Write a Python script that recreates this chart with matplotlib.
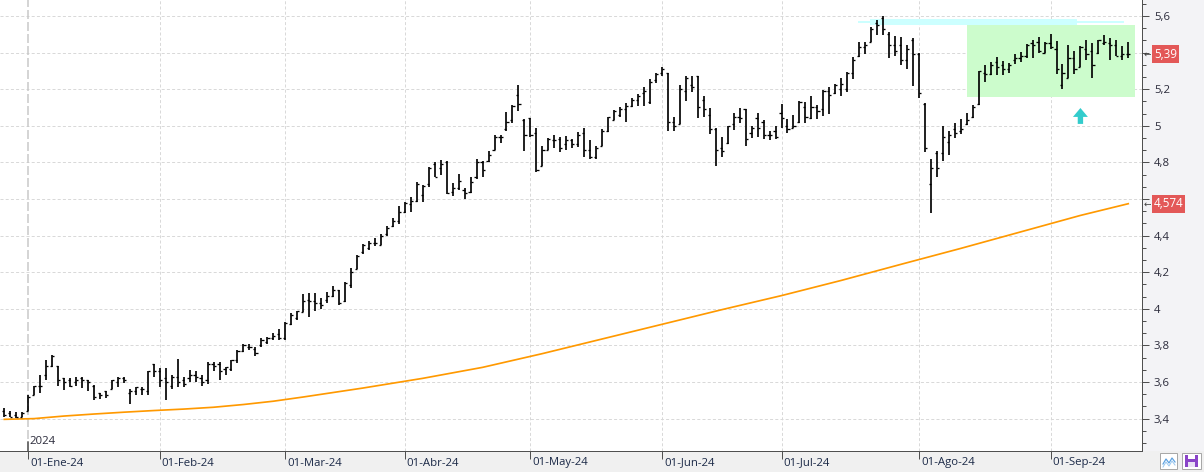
import numpy as np
import pandas as pd
import matplotlib
matplotlib.use("Agg")
import matplotlib.pyplot as plt
from matplotlib.patches import Rectangle, Polygon
import matplotlib.transforms as mtransforms
from matplotlib.ticker import FixedLocator, FuncFormatter

# ---------------- data ----------------
HOLIDAYS = ["2023-12-25", "2023-12-26", "2024-01-01", "2024-03-29", "2024-04-01", "2024-05-01"]
START_DATE = "2023-12-22"
END_DATE = "2024-09-19"

opens = [
    3.44, 3.43, 3.42, 3.41,
    3.44, 3.53, 3.58, 3.64, 3.69, 3.69, 3.62, 3.61, 3.60, 3.62, 3.61, 3.58, 3.54, 3.55, 3.56, 3.60, 3.62, 3.54, 3.55, 3.56, 3.55, 3.70,
    3.66, 3.62, 3.58, 3.63, 3.61, 3.62, 3.64, 3.62, 3.61, 3.70, 3.70, 3.67, 3.67, 3.72, 3.77, 3.79, 3.78, 3.80, 3.82, 3.84, 3.86,
    3.84, 3.915, 3.95, 3.98, 4.05, 4.04, 4.03, 4.05, 4.07, 4.10, 4.04, 4.13, 4.22, 4.31, 4.33, 4.36, 4.35, 4.41, 4.45, 4.48,
    4.53, 4.57, 4.59, 4.62, 4.68, 4.79, 4.77, 4.80, 4.64, 4.66, 4.65, 4.64, 4.72, 4.80, 4.81, 4.87, 4.94, 4.98, 5.03, 5.17, 5.03,
    5.04, 4.96, 4.78, 4.87, 4.92, 4.93, 4.90, 4.92, 4.90, 4.96, 4.87, 4.83, 4.89, 4.97, 5.03, 5.06, 5.09, 5.11, 5.14, 5.18, 5.13, 5.25,
    5.29, 5.29, 5.02, 5.01, 5.19, 5.22, 5.27, 5.14, 5.06, 4.98, 4.88, 4.905, 5.01, 5.05, 5.09, 4.96, 5.04, 5.02, 4.95, 4.97,
    5.07, 5.00, 4.99, 5.02, 5.10, 5.04, 5.10, 5.09, 5.19, 5.18, 5.20, 5.20, 5.29, 5.38, 5.43, 5.46, 5.56, 5.59, 5.50, 5.44, 5.44, 5.36, 5.47,
    5.39, 5.12, 4.68, 4.85, 4.85, 4.91, 4.98, 4.97, 5.01, 5.05, 5.12, 5.29, 5.28, 5.35, 5.33, 5.31, 5.36, 5.37, 5.38, 5.45, 5.46, 5.40,
    5.45, 5.42, 5.22, 5.26, 5.37, 5.32, 5.42, 5.41, 5.40, 5.45, 5.45, 5.44, 5.38, 5.39,
]
highs = [
    3.46, 3.44, 3.435, 3.435,
    3.53, 3.58, 3.64, 3.72, 3.75, 3.69, 3.62, 3.62, 3.63, 3.63, 3.61, 3.585, 3.54, 3.55, 3.61, 3.625, 3.625, 3.56, 3.57, 3.57, 3.66, 3.70,
    3.675, 3.675, 3.64, 3.725, 3.63, 3.665, 3.66, 3.64, 3.71, 3.71, 3.71, 3.68, 3.72, 3.775, 3.81, 3.81, 3.79, 3.84, 3.845, 3.865, 3.89,
    3.93, 3.975, 3.99, 4.08, 4.085, 4.085, 4.06, 4.09, 4.125, 4.10, 4.145, 4.225, 4.295, 4.355, 4.37, 4.385, 4.41, 4.45, 4.495, 4.56,
    4.585, 4.61, 4.695, 4.675, 4.775, 4.80, 4.815, 4.805, 4.685, 4.735, 4.66, 4.72, 4.82, 4.81, 4.86, 4.95, 4.95, 5.075, 5.115, 5.225, 5.035,
    5.045, 4.985, 4.89, 4.935, 4.95, 4.94, 4.945, 4.93, 4.965, 4.985, 4.92, 4.89, 4.98, 5.05, 5.085, 5.10, 5.125, 5.15, 5.175, 5.21, 5.255, 5.29,
    5.32, 5.29, 5.05, 5.22, 5.27, 5.27, 5.27, 5.165, 5.095, 4.985, 4.94, 5.0, 5.07, 5.095, 5.09, 5.0, 5.07, 5.03, 4.97, 5.0,
    5.12, 5.035, 5.06, 5.135, 5.13, 5.165, 5.115, 5.195, 5.21, 5.23, 5.26, 5.295, 5.375, 5.46, 5.455, 5.54, 5.58, 5.60, 5.51, 5.49, 5.485, 5.44, 5.48,
    5.40, 5.125, 4.82, 4.86, 5.0, 4.97, 5.015, 5.035, 5.07, 5.115, 5.30, 5.33, 5.35, 5.375, 5.355, 5.345, 5.39, 5.405, 5.445, 5.47, 5.485, 5.455,
    5.50, 5.465, 5.34, 5.44, 5.41, 5.435, 5.47, 5.45, 5.47, 5.495, 5.48, 5.47, 5.435, 5.455,
]
lows = [
    3.41, 3.41, 3.405, 3.41,
    3.44, 3.53, 3.54, 3.61, 3.68, 3.58, 3.555, 3.57, 3.58, 3.565, 3.55, 3.50, 3.505, 3.515, 3.56, 3.57, 3.595, 3.48, 3.53, 3.53, 3.53, 3.63,
    3.57, 3.50, 3.56, 3.575, 3.57, 3.60, 3.60, 3.58, 3.59, 3.66, 3.61, 3.64, 3.66, 3.705, 3.765, 3.775, 3.74, 3.79, 3.81, 3.83, 3.83,
    3.83, 3.91, 3.94, 3.98, 3.955, 3.99, 4.0, 4.03, 4.065, 4.02, 4.035, 4.115, 4.22, 4.30, 4.32, 4.345, 4.35, 4.40, 4.445, 4.465,
    4.525, 4.53, 4.585, 4.585, 4.665, 4.72, 4.73, 4.625, 4.615, 4.65, 4.60, 4.63, 4.71, 4.72, 4.80, 4.865, 4.905, 4.97, 5.015, 5.08, 4.86,
    4.94, 4.745, 4.78, 4.865, 4.88, 4.855, 4.87, 4.88, 4.885, 4.83, 4.82, 4.82, 4.89, 4.965, 5.03, 5.05, 5.02, 5.10, 5.11, 5.11, 5.12, 5.235,
    5.27, 4.97, 4.97, 5.01, 5.135, 5.185, 5.045, 5.05, 4.955, 4.78, 4.83, 4.90, 4.975, 5.015, 4.89, 4.935, 4.94, 4.925, 4.92, 4.925,
    4.99, 4.96, 4.985, 5.015, 5.015, 5.035, 5.035, 5.055, 5.065, 5.175, 5.16, 5.185, 5.255, 5.375, 5.39, 5.455, 5.495, 5.495, 5.37, 5.38, 5.33, 5.31, 5.215,
    5.15, 4.855, 4.525, 4.72, 4.81, 4.84, 4.935, 4.955, 5.005, 5.04, 5.115, 5.24, 5.275, 5.275, 5.275, 5.29, 5.34, 5.35, 5.37, 5.37, 5.40, 5.40,
    5.42, 5.285, 5.20, 5.26, 5.28, 5.32, 5.36, 5.26, 5.39, 5.44, 5.36, 5.38, 5.36, 5.37,
]
closes = [
    3.42, 3.41, 3.41, 3.43,
    3.52, 3.58, 3.58, 3.69, 3.74, 3.61, 3.60, 3.58, 3.61, 3.61, 3.60, 3.52, 3.53, 3.53, 3.61, 3.62, 3.61, 3.55, 3.57, 3.56, 3.66, 3.66,
    3.61, 3.60, 3.63, 3.60, 3.59, 3.64, 3.63, 3.60, 3.70, 3.69, 3.66, 3.68, 3.72, 3.77, 3.80, 3.79, 3.76, 3.83, 3.84, 3.85, 3.84,
    3.92, 3.965, 3.99, 4.04, 4.04, 4.03, 4.02, 4.07, 4.10, 4.03, 4.14, 4.20, 4.29, 4.35, 4.36, 4.36, 4.40, 4.44, 4.48, 4.53,
    4.58, 4.59, 4.68, 4.67, 4.77, 4.72, 4.79, 4.63, 4.66, 4.70, 4.63, 4.69, 4.80, 4.76, 4.84, 4.94, 4.94, 5.02, 5.11, 5.12, 4.95,
    4.95, 4.76, 4.87, 4.93, 4.92, 4.88, 4.92, 4.90, 4.95, 4.87, 4.83, 4.88, 4.97, 5.05, 5.08, 5.09, 5.11, 5.14, 5.16, 5.19, 5.24, 5.28,
    5.31, 5.02, 5.00, 5.20, 5.26, 5.21, 5.10, 5.09, 4.98, 4.87, 4.86, 5.0, 5.05, 5.04, 4.93, 4.99, 4.99, 4.95, 4.95, 4.94,
    5.04, 4.98, 5.00, 5.13, 5.05, 5.10, 5.08, 5.19, 5.17, 5.22, 5.23, 5.29, 5.36, 5.43, 5.44, 5.53, 5.55, 5.53, 5.44, 5.41, 5.36, 5.42, 5.39,
    5.18, 4.88, 4.77, 4.77, 4.94, 4.95, 4.96, 4.98, 5.03, 5.10, 5.30, 5.28, 5.33, 5.32, 5.31, 5.33, 5.37, 5.38, 5.44, 5.44, 5.41, 5.45,
    5.43, 5.31, 5.29, 5.37, 5.31, 5.43, 5.39, 5.33, 5.47, 5.46, 5.44, 5.38, 5.39, 5.39,
]

# moving average (orange line) read at selected bars
ma_bars = [0, 5, 10, 15, 20, 25, 30, 35, 40, 45, 50, 60, 70, 80, 90, 100, 110, 120, 130, 140, 150, 160, 170, 180, 188]
ma_values = [3.396, 3.40, 3.414, 3.425, 3.435, 3.444, 3.452, 3.462, 3.477, 3.495, 3.518, 3.567, 3.62, 3.68, 3.755,
             3.835, 3.915, 3.995, 4.072, 4.155, 4.243, 4.33, 4.42, 4.51, 4.574]

MONTH_LABELS = ["01-Ene-24", "01-Feb-24", "01-Mar-24", "01-Abr-24", "01-May-24",
                "01-Jun-24", "01-Jul-24", "01-Ago-24", "01-Sep-24"]
YEAR_LABEL = "2024"

# annotation shapes (bar index / price)
ZONE_X = (161.0, 189.1)
ZONE_Y = (5.159, 5.551)
BAND_THIN_X = (142.8, 187.3)
BAND_THIN_Y = (5.560, 5.574)
BAND_THICK_X = (144.8, 179.4)
BAND_THICK_Y = (5.552, 5.582)
ARROW_BAR = 180
ARROW_TIP = 5.097
ARROW_BASE = 5.01

# ---------------- figure ----------------
W, H, DPI = 1204, 472, 100
plt.rcParams['font.family'] = ['Open Sans', 'DejaVu Sans']
fig = plt.figure(figsize=(W / DPI, H / DPI), dpi=DPI, facecolor='#f0f0f0')
PX = 0.72  # points per pixel

AX_R = 1142
AX_B = 451
ax = fig.add_axes([0, (H - AX_B) / H, AX_R / W, AX_B / H])
ax.set_facecolor('white')

# right panel background
fig.add_artist(Rectangle((AX_R / W, (H - AX_B) / H), 1 - AX_R / W, AX_B / H,
                         transform=fig.transFigure, facecolor='#f3f3f6', edgecolor='none', zorder=-1))

dates = pd.bdate_range(START_DATE, END_DATE)
dates = dates[~dates.isin(pd.to_datetime(HOLIDAYS))]
n = len(dates)
assert n == len(opens) == len(highs) == len(lows) == len(closes)
x = np.arange(n)

ax.set_xlim(-0.72, 190.3)
ax.set_ylim(3.223, 5.687)

# month positions: first trading bar of each month of 2024
s = pd.Series(x, index=dates)
firsts = s.groupby([dates.year, dates.month]).first()
month_pos = [int(v) for (yy, mm), v in firsts.items() if yy == 2024]

# grid
for yv in np.arange(3.4, 5.61, 0.2):
    ax.axhline(yv, color='#d9d9d9', lw=1 * PX, dashes=(3, 2.2), zorder=0)
for i, mp in enumerate(month_pos):
    if i == 0:
        ax.axvline(mp, color='#c8c8c8', lw=1.5 * PX, dashes=(6, 2), zorder=0)
    else:
        ax.axvline(mp, color='#d9d9d9', lw=1 * PX, dashes=(3, 2.2), zorder=0)

# annotation zone and band
ax.add_patch(Rectangle((BAND_THIN_X[0], BAND_THIN_Y[0]), BAND_THIN_X[1] - BAND_THIN_X[0],
                       BAND_THIN_Y[1] - BAND_THIN_Y[0], facecolor='#ccffff', edgecolor='none', zorder=1))
ax.add_patch(Rectangle((BAND_THICK_X[0], BAND_THICK_Y[0]), BAND_THICK_X[1] - BAND_THICK_X[0],
                       BAND_THICK_Y[1] - BAND_THICK_Y[0], facecolor='#ccffff', edgecolor='none', zorder=1))
ax.add_patch(Rectangle((ZONE_X[0], ZONE_Y[0]), ZONE_X[1] - ZONE_X[0], ZONE_Y[1] - ZONE_Y[0],
                       facecolor='#ccfccc', edgecolor='none', zorder=1))

# moving average
ax.plot(ma_bars, ma_values, color='#ff9900', lw=1.7 * PX, zorder=2)

# OHLC bars
tick_w = 0.36
ax.vlines(x, lows, highs, color='black', lw=1.7 * PX, zorder=3)
ax.hlines(opens, x - tick_w, x, color='black', lw=1.3 * PX, zorder=3)
ax.hlines(closes, x, x + tick_w, color='black', lw=1.3 * PX, zorder=3)

# cyan arrow
hw = 1.25
sw = 0.45
head_base = ARROW_TIP - (ARROW_TIP - ARROW_BASE) * 0.56
ax.add_patch(Polygon([(ARROW_BAR, ARROW_TIP), (ARROW_BAR + hw, head_base), (ARROW_BAR + sw, head_base),
                      (ARROW_BAR + sw, ARROW_BASE), (ARROW_BAR - sw, ARROW_BASE), (ARROW_BAR - sw, head_base),
                      (ARROW_BAR - hw, head_base)], closed=True, facecolor='#33cccc', edgecolor='none', zorder=4))

# spines
for sp in ['left', 'top']:
    ax.spines[sp].set_visible(False)
ax.spines['right'].set_color('#505050')
ax.spines['right'].set_linewidth(1 * PX)
ax.spines['bottom'].set_color('#505050')
ax.spines['bottom'].set_linewidth(1 * PX)

# values flagged on the right axis (their boxes hide the nearby tick labels)
flag_values = [closes[-1], ma_values[-1]]


def fmt_tick(v, p):
    if any(abs(v - fv) < 0.06 for fv in flag_values):
        return ""
    return f"{round(v, 1):g}".replace('.', ',')


# y axis on the right
ax.yaxis.tick_right()
major = np.round(np.arange(3.4, 5.61, 0.2), 2)
minor = np.round(np.arange(3.2, 5.7, 0.2 / 3), 4)
ax.yaxis.set_major_locator(FixedLocator(major))
ax.yaxis.set_minor_locator(FixedLocator(minor))
ax.yaxis.set_major_formatter(FuncFormatter(fmt_tick))
ax.tick_params(axis='y', which='major', length=7 * PX, width=1 * PX, color='#505050',
               labelsize=8.2, labelcolor='#2a2a3a', pad=5 * PX)
ax.tick_params(axis='y', which='minor', length=3.5 * PX, width=1 * PX, color='#505050')

# x axis: month ticks with custom labels
ax.set_xticks(month_pos)
ax.set_xticklabels([])
ax.tick_params(axis='x', which='major', length=8 * PX, width=1 * PX, color='#505050', direction='out')
lab_tr = mtransforms.offset_copy(ax.get_xaxis_transform(), fig=fig, x=2, y=-12, units='dots')
for mp, lab in zip(month_pos, MONTH_LABELS):
    ax.text(mp, 0, lab, transform=lab_tr, ha='left', va='center', fontsize=8.2,
            color='#1c2a48', clip_on=False)

# year marker
yr_tr = mtransforms.offset_copy(ax.get_xaxis_transform(), fig=fig, x=1.5, y=9, units='dots')
ax.text(month_pos[0], 0, YEAR_LABEL, transform=yr_tr, ha='left', va='center', fontsize=8.2,
        color='#2a2a3a')
ax.plot([month_pos[0], month_pos[0]], [0, 9 / AX_B], transform=ax.get_xaxis_transform(),
        color='#505050', lw=1.5 * PX, zorder=3, clip_on=False)

# value labels on the right axis
blend = mtransforms.blended_transform_factory(fig.transFigure, ax.transData)
BOX_H = 18 / 183.0
for val, txt, wpx in [(closes[-1], f"{closes[-1]:.2f}".replace('.', ','), 27),
                      (ma_values[-1], f"{ma_values[-1]:.3f}".replace('.', ','), 33)]:
    fig.add_artist(Rectangle((1152 / W, val - BOX_H / 2), wpx / W, BOX_H, transform=blend,
                             facecolor='#e35858', edgecolor='none', zorder=5))
    fig.text((1152 + wpx / 2) / W, val, txt, transform=blend, ha='center', va='center',
             fontsize=8.4, color='white', zorder=6)
    fig.text((AX_R + 1.5) / W, val, "←", transform=blend, ha='left', va='center',
             fontsize=6.5, color='#404040', zorder=6, family='DejaVu Sans')

# bottom-right icons
def fig_rect(x0, y0, w, h, **kw):
    fig.add_artist(Rectangle((x0 / W, (H - y0 - h) / H), w / W, h / H, transform=fig.transFigure, **kw))


fig_rect(1160, 453, 17, 16, facecolor='white', edgecolor='#a8a8a8', lw=1 * PX, zorder=5)
zx = np.array([1163, 1166, 1169, 1172, 1175])
zy = np.array([464, 459, 463, 458, 462])
fig.add_artist(plt.Line2D(zx / W, (H - zy) / H, transform=fig.transFigure, color='#5aa0e0', lw=1.2 * PX, zorder=6))
fig.add_artist(plt.Line2D(zx / W, (H - zy - 3) / H, transform=fig.transFigure, color='#9cc8f0', lw=1.0 * PX, zorder=6))
fig_rect(1182, 453, 19, 16, facecolor='white', edgecolor='#a8a8a8', lw=1 * PX, zorder=5)
fig_rect(1185, 455, 13, 12, facecolor='#8a44c8', edgecolor='none', zorder=6)
fig_rect(1188, 455, 7, 4, facecolor='white', edgecolor='none', zorder=7)
fig_rect(1188, 462, 7, 5, facecolor='#e8e0f4', edgecolor='none', zorder=7)

fig.savefig("out.png", dpi=DPI, facecolor=fig.get_facecolor())
